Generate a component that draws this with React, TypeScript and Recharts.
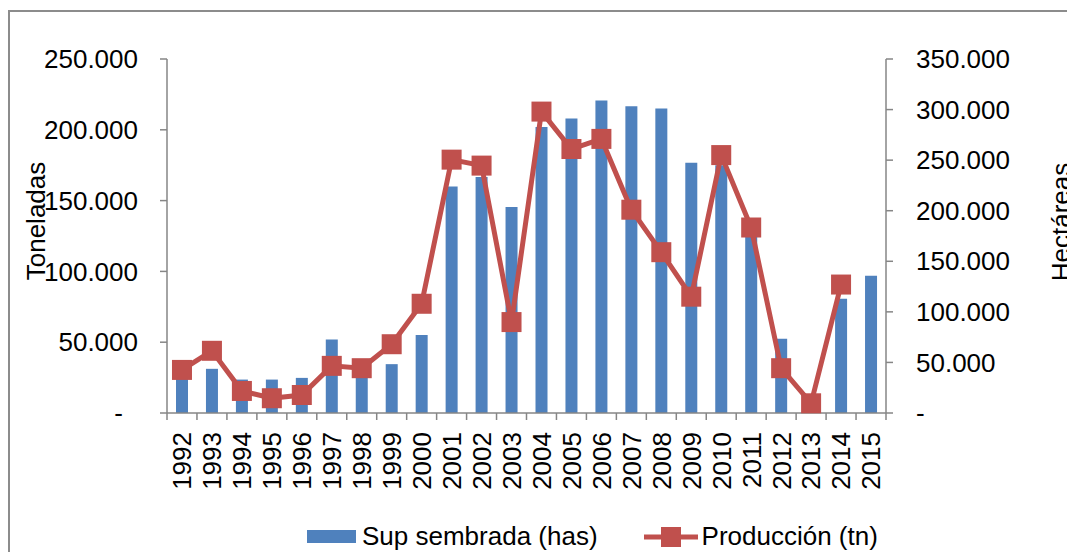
import { ComposedChart, Bar, Line, XAxis, YAxis } from 'recharts';

const years = [
  '1992', '1993', '1994', '1995', '1996', '1997', '1998', '1999', '2000', '2001', '2002', '2003',
  '2004', '2005', '2006', '2007', '2008', '2009', '2010', '2011', '2012', '2013', '2014', '2015'
];

// Sup sembrada (has) - left axis
const supSembrada = [
  30000, 31200, 23600, 23600, 24800, 51900, 30000, 34500, 55000, 160000, 166600, 145400,
  202000, 208000, 220700, 216700, 215000, 176800, 175000, 127000, 52400, 4000, 80700, 97000
];

// Producción (tn) - right axis
const produccion: (number | null)[] = [
  42600, 61500, 21800, 14600, 17800, 46600, 44300, 68000, 108000, 250500, 244600, 89900,
  298000, 261000, 271000, 201000, 159000, 115000, 255000, 183400, 44300, 9600, 127000, null
];

const leftTicks = [0, 50000, 100000, 150000, 200000, 250000];
const rightTicks = [0, 50000, 100000, 150000, 200000, 250000, 300000, 350000];

const data = years.map((y, i) => ({ year: y, sup: supSembrada[i], prod: produccion[i] }));

const BLUE = '#4F81BD';
const RED = '#C0504D';
const AXIS = '#868686';
const FONT = '"Liberation Sans", Arial, sans-serif';

const W = 1075;
const H = 560;
const PLOT_LEFT = 167;
const PLOT_RIGHT = 886;
const PLOT_TOP = 59;
const PLOT_BOTTOM = 413;
const HALF_BAND = (PLOT_RIGHT - PLOT_LEFT) / years.length / 2;

const fmt = (v: number) => (v === 0 ? '-' : v.toLocaleString('de-DE'));

function LeftTick(props: any) {
  const { x, y, payload } = props;
  const shift = payload.value === 0 ? -15 : 0;
  return (
    <text x={x + shift} y={y} dy="0.35em" textAnchor="end" fontSize={26} fontFamily={FONT} fill="#000">
      {fmt(payload.value)}
    </text>
  );
}

function RightTick(props: any) {
  const { x, y, payload } = props;
  return (
    <text x={x} y={y} dy="0.35em" textAnchor="start" fontSize={26} fontFamily={FONT} fill="#000">
      {fmt(payload.value)}
    </text>
  );
}

function YearTick(props: any) {
  const { x, payload, index } = props;
  const last = index === years.length - 1;
  return (
    <g>
      <line x1={x - HALF_BAND} x2={x - HALF_BAND} y1={PLOT_BOTTOM} y2={PLOT_BOTTOM + 7} stroke={AXIS} strokeWidth={1.5} />
      {last && (
        <line x1={x + HALF_BAND} x2={x + HALF_BAND} y1={PLOT_BOTTOM} y2={PLOT_BOTTOM + 7} stroke={AXIS} strokeWidth={1.5} />
      )}
      <text
        x={x}
        y={432}
        dy="0.36em"
        textAnchor="end"
        transform={`rotate(-90, ${x}, 432)`}
        fontSize={26}
        fontFamily={FONT}
        fill="#000"
      >
        {payload.value}
      </text>
    </g>
  );
}

function SquareDot(props: any) {
  const { cx, cy, payload } = props;
  if (payload.prod == null || cx == null || cy == null) return null;
  return <rect x={cx - 10} y={cy - 10} width={20} height={20} fill={RED} />;
}

// axis titles, centred where the reference has them
const axisTitle = (text: string, cx: number, cy: number) => () => (
  <text
    x={cx}
    y={cy}
    dy="0.36em"
    textAnchor="middle"
    transform={`rotate(-90, ${cx}, ${cy})`}
    fontSize={26}
    fontFamily={FONT}
    fill="#000"
  >
    {text}
  </text>
);

export default function App() {
  return (
    <div style={{ position: 'relative', width: W, height: H, margin: -8, overflow: 'hidden', background: '#fff' }}>
      <div
        style={{
          position: 'absolute',
          left: 8,
          top: 10,
          width: 1200,
          height: 700,
          borderLeft: '2px solid #8c8c8c',
          borderTop: '2px solid #8c8c8c'
        }}
      />
      <div style={{ position: 'absolute', left: 0, top: 0 }}>
        <ComposedChart
          width={W}
          height={H}
          data={data}
          margin={{ top: PLOT_TOP, right: 19, bottom: 47, left: 17 }}
          barCategoryGap="60%"
        >
          <XAxis
            dataKey="year"
            axisLine={{ stroke: AXIS, strokeWidth: 1.5 }}
            tickLine={false}
            tick={<YearTick />}
            interval={0}
            height={100}
          />
          <YAxis
            yAxisId="left"
            orientation="left"
            width={150}
            domain={[0, 250000]}
            ticks={leftTicks}
            axisLine={{ stroke: AXIS, strokeWidth: 1.5 }}
            tickLine={{ stroke: AXIS, strokeWidth: 1.5 }}
            tickSize={7}
            tickMargin={22}
            tick={<LeftTick />}
            label={{ content: axisTitle('Toneladas', 36, 221) }}
          />
          <YAxis
            yAxisId="right"
            orientation="right"
            width={170}
            domain={[0, 350000]}
            ticks={rightTicks}
            axisLine={{ stroke: AXIS, strokeWidth: 1.5 }}
            tickLine={{ stroke: AXIS, strokeWidth: 1.5 }}
            tickSize={7}
            tickMargin={23}
            tick={<RightTick />}
            label={{ content: axisTitle('Hectáreas', 1061, 222) }}
          />
          <Bar yAxisId="left" dataKey="sup" fill={BLUE} barSize={12} isAnimationActive={false} />
          <Line
            yAxisId="right"
            dataKey="prod"
            stroke={RED}
            strokeWidth={5}
            dot={<SquareDot />}
            activeDot={false}
            isAnimationActive={false}
          />
        </ComposedChart>
      </div>
      <div
        style={{
          position: 'absolute',
          top: 521,
          left: 307,
          display: 'flex',
          alignItems: 'center',
          fontFamily: FONT,
          fontSize: 26,
          color: '#000',
          whiteSpace: 'nowrap'
        }}
      >
        <span style={{ display: 'inline-block', width: 49, height: 13, background: BLUE, marginRight: 6 }} />
        <span>Sup sembrada (has)</span>
        <svg width={54} height={30} style={{ marginLeft: 46, marginRight: 4 }}>
          <line x1={0} x2={54} y1={15} y2={15} stroke={RED} strokeWidth={5} />
          <rect x={17} y={5} width={20} height={20} fill={RED} />
        </svg>
        <span>Producción (tn)</span>
      </div>
    </div>
  );
}
